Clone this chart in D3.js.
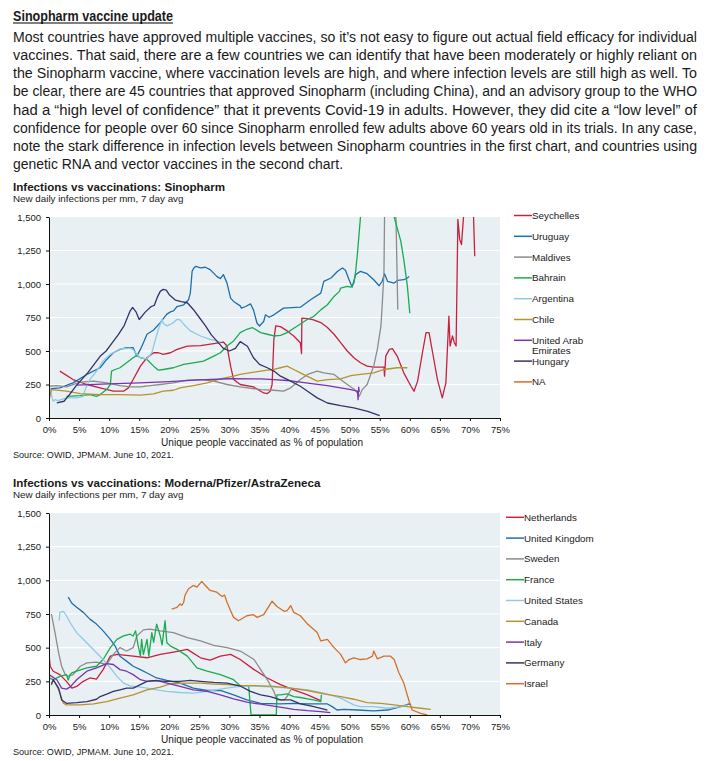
<!DOCTYPE html>
<html>
<head>
<meta charset="utf-8">
<script src="https://cdn.jsdelivr.net/npm/d3@7"></script>
<style>
  body { margin: 0; background: #fff; }
  svg text { font-family: "Liberation Sans", Arial, sans-serif; fill: #1a1a1a; }
</style>
</head>
<body>
<div id="page"></div>
<script>
// page text
const heading = "Sinopharm vaccine update";
const paragraph = [
  "Most countries have approved multiple vaccines, so it\u2019s not easy to figure out actual field efficacy for individual",
  "vaccines.  That said, there are a few countries we can identify that have been moderately or highly reliant on",
  "the Sinopharm vaccine, where vaccination levels are high, and where infection levels are still high as well.  To",
  "be clear, there are 45 countries that approved Sinopharm (including China), and an advisory group to the WHO",
  "had a \u201chigh level of confidence\u201d that it prevents Covid-19 in adults.  However, they did cite a \u201clow level\u201d of",
  "confidence for people over 60 since Sinopharm enrolled few adults above 60 years old in its trials.  In any case,",
  "note the stark difference in infection levels between Sinopharm countries in the first chart, and countries using",
  "genetic RNA and vector vaccines in the second chart."
];

// shared axis ticks
const yTicks = [0, 250, 500, 750, 1000, 1250, 1500];
const xTicks = [0, 5, 10, 15, 20, 25, 30, 35, 40, 45, 50, 55, 60, 65, 70, 75];
const xLabel = "Unique people vaccinated as % of population";
const sourceText = "Source: OWID, JPMAM. June 10, 2021.";

// ---- chart 1: Sinopharm countries  [% vaccinated, infections per mm]
const sinoNames = ["Seychelles", "Uruguay", "Maldives", "Bahrain", "Argentina", "Chile", "United Arab Emirates", "Hungary", "NA"];
const seychelles = [[1.8,350],[4,287],[6.3,250],[8.5,225],[10.7,200],[12.4,200],[13.2,225],[14,287],[15.2,387],[16.3,450],[17.4,487],[18.2,487],[19,475],[20.2,487],[21.3,512],[23,537],[25.2,540],[27.4,555],[29,567],[29.6,537],[30.2,387],[30.7,287],[31.8,250],[34,232],[35.7,187],[36.3,182],[36.8,200],[37.1,250],[37.4,587],[37.7,687],[38.5,682],[39.6,650],[40.7,612],[41.8,562],[42,480],[42.05,745],[43,742],[44,732],[45.2,712],[46.3,675],[47.4,625],[48.5,562],[49.6,500],[50.7,450],[51.8,412],[52.9,387],[54,380],[55.7,380],[55.8,312],[56,462],[56.6,512],[57.1,517],[57.9,462],[59,337],[60.2,237],[60.7,200],[61.3,275],[62.1,487],[62.7,637],[63.2,637],[63.8,487],[64.6,287],[65.4,150],[66,262],[66.5,760],[66.7,537],[67.1,612],[67.4,562],[67.7,537],[68,1482],[68.3,1332],[68.6,1295],[68.9,1482],[69.3,1650],[70,1650],[70.6,1500],[70.8,1207]];
const uruguay = [[0,217],[1.8,225],[4,262],[6.3,325],[8.5,375],[9.6,437],[10.7,487],[11.8,512],[12.9,525],[14,525],[14.6,462],[15.2,512],[15.7,562],[16.3,625],[17.4,657],[18.5,712],[19.6,775],[20.2,792],[20.7,800],[21.3,832],[22.4,845],[23.2,882],[23.5,932],[23.8,1095],[24.1,1120],[24.4,1132],[25.2,1120],[26,1125],[26.8,1107],[27.9,1057],[28.5,1040],[29,1070],[29.6,1007],[30.2,895],[30.7,870],[31.8,837],[32,820],[32.7,832],[33.5,852],[34,807],[34.6,707],[35,687],[35.7,720],[36,770],[36.6,752],[37.4,770],[39,820],[41.8,827],[43.5,882],[45.2,932],[45.7,1020],[46.9,1045],[48,1095],[48.8,1120],[49.3,1102],[49.9,1032],[50.4,977],[51,1070],[51.8,1095],[52.9,1077],[54,1032],[54.9,987],[55.4,1020],[55.8,1077],[56.3,1020],[57.4,1007],[58,1027],[59,1032],[59.6,1045],[59.9,1057]];
const maldives = [[0,237],[1.3,242],[2.9,232],[5.2,267],[7.4,275],[9.6,262],[11.8,242],[13.5,232],[15.2,232],[16.8,242],[18.5,250],[20.7,262],[23,282],[25.2,287],[27.4,275],[29.6,250],[31.8,232],[35.2,212],[37.4,207],[39,200],[40.2,225],[41.8,287],[43,325],[44.6,350],[45.7,337],[47.4,325],[48.5,287],[49.6,250],[50.7,217],[51.3,187],[51.6,162],[52.1,212],[52.9,250],[53.5,325],[54,387],[54.6,512],[55.2,687],[55.4,832],[55.7,1082],[55.8,1500],[56.5,1900],[57.2,1900],[57.7,1500],[58,807]];
const bahrain = [[2.9,162],[5.2,167],[6.8,175],[7.9,162],[8.5,175],[9.6,212],[10.2,250],[10.4,350],[11,362],[11.8,375],[12.9,412],[14,450],[14.6,467],[15.2,450],[16.3,437],[17.4,387],[18.2,357],[19,362],[20.7,375],[22.4,400],[24,412],[25.7,425],[27.4,462],[28.5,487],[29.6,537],[30.7,575],[31.8,637],[32.9,662],[33.8,675],[35.2,637],[36.3,625],[37.4,612],[38.5,617],[39.6,637],[41.3,687],[43,737],[44,757],[45.2,807],[46.3,845],[47.4,907],[48.3,945],[48.5,970],[49.6,982],[50.2,977],[50.7,1007],[51,1095],[51.3,1232],[51.8,1500],[52.5,1800],[55,2000],[57,1800],[57.4,1500],[58.5,1320],[59,1182],[59.6,982],[60,782]];
const argentina = [[0.2,225],[0.5,150],[0.7,125],[1,137],[1.5,130],[2.9,150],[4.6,150],[5.7,162],[6,212],[6.3,240],[6.8,287],[7.9,350],[9,425],[10.2,475],[11.8,515],[13.5,522],[14,510],[14.6,475],[15.2,450],[16.3,442],[17.1,487],[17.7,587],[18.2,662],[18.8,737],[19,707],[19.6,687],[20.2,700],[20.7,712],[21.3,737],[21.8,732],[22.4,700],[23.5,650],[25.2,612],[26.8,587],[27.9,575],[28.5,565]];
const chile = [[0,225],[0.1,150],[0.4,212],[2.9,200],[5.2,182],[8.5,175],[11.8,175],[15.2,170],[17.4,180],[19,200],[20.7,207],[21.8,225],[24,242],[26.3,262],[28.5,292],[30.7,312],[31.8,325],[34.1,342],[36.3,357],[37.4,362],[38.5,375],[39.6,387],[40.7,362],[41.8,337],[43.5,300],[44.6,275],[46.3,287],[48.5,292],[50.2,317],[51.8,325],[54,337],[55.7,362],[57.9,375],[59.6,375]];
const uae = [[4.5,245],[10,255],[15,262],[20,272],[25,285],[30,293],[35.2,292],[37.4,287],[39.6,280],[41.8,267],[44,255],[46.3,242],[48.5,225],[50.2,212],[51.3,200],[51.4,137],[51.5,230],[51.6,195]];
const hungary = [[1.3,112],[2.5,125],[3.5,180],[4.5,240],[5.5,290],[6.5,340],[7.5,400],[8.5,460],[9.5,500],[10.5,560],[11.5,620],[12.5,690],[13.5,800],[13.9,825],[14.5,790],[15,735],[16,790],[17,832],[17.5,840],[18,900],[18.5,945],[19,960],[19.5,955],[20,920],[21,880],[22,868],[23,860],[24,810],[25,750],[26,690],[27,620],[28,570],[29,520],[30,500],[31,520],[31.8,570],[33,535],[34,450],[35,400],[36.3,375],[37.4,350],[38.5,312],[40.2,275],[41.8,237],[43,200],[44.6,150],[46.3,112],[48.5,92],[50.7,75],[53,50],[55,17]];
const naSeries = [];
const sinoValues = [seychelles, uruguay, maldives, bahrain, argentina, chile, uae, hungary, naSeries];

// ---- chart 2: mRNA / vector countries
const mrnaNames = ["Netherlands", "United Kingdom", "Sweden", "France", "United States", "Canada", "Italy", "Germany", "Israel"];
const netherlands = [[0,450],[0.2,362],[0.7,325],[1.8,300],[2.9,250],[3.8,200],[4.6,212],[5.7,250],[6.8,275],[7.9,267],[9,337],[10.2,437],[11.3,450],[14,437],[16.3,425],[18.5,450],[20.7,467],[23,487],[25.2,425],[26.8,407],[28.5,437],[30.2,450],[31.8,412],[34.1,337],[36.3,275],[38.5,225],[40.7,187],[43,150],[45.2,107]];
const uk = [[3.2,875],[3.8,830],[4.6,800],[5.7,762],[6.8,712],[7.9,675],[9,625],[10.2,562],[11,512],[11.8,437],[12.9,400],[14,362],[15.2,337],[16.3,312],[17.9,275],[19.6,257],[21.8,237],[24,200],[26.3,182],[28.5,182],[30.7,150],[32.9,112],[35.2,87],[38.5,82],[40.7,87],[43,82],[46.3,82],[47.1,62],[47.9,37],[49,42],[51.3,37],[54,30],[56.3,37],[58.5,62],[59.9,82],[60.2,75]];
const sweden = [[0.4,750],[1,612],[1.6,462],[2.1,362],[2.7,300],[3.2,287],[4,300],[5.2,362],[6.3,387],[7.9,392],[9.6,375],[10.7,450],[11.8,500],[12.9,475],[14,500],[14.6,587],[15.7,632],[16.8,637],[18.5,625],[20.7,612],[23,575],[25.2,550],[27.4,517],[29.6,500],[31.8,475],[34.1,412],[35.2,337],[36.3,262],[37.4,175],[37.9,112],[39.1,112],[39.6,137],[40.2,187]];
const france = [[0,275],[0.7,262],[1.8,287],[2.9,300],[3.2,260],[3.5,300],[3.8,312],[4.6,325],[6.3,350],[7.9,362],[9,412],[10.2,500],[11.3,562],[12.4,587],[13.5,600],[14,587],[14.4,625],[14.8,520],[15.2,437],[15.4,562],[15.7,450],[16.3,562],[16.6,437],[17.1,612],[17.4,540],[17.9,675],[18.5,587],[18.8,520],[19,590],[19.3,700],[19.6,537],[20.2,512],[21.3,487],[23,437],[24.6,350],[26.3,325],[28.5,300],[30.7,262],[31.8,217],[33.2,217],[33.6,0],[37.8,0],[37.9,150],[38.5,150],[39.6,157],[40.7,137],[41.8,130],[43,120],[44,112],[45.2,100],[45.3,150]];
const us = [[1.7,700],[1.8,762],[2.4,770],[2.9,737],[3.5,687],[4.6,612],[5.7,562],[6.8,512],[7.9,462],[9,412],[10.2,350],[11.3,287],[12.4,237],[13.5,217],[15.2,207],[16.3,200],[17.9,187],[19.6,175],[21.8,167],[24,162],[26.3,175],[28.5,192],[30.7,207],[32.9,217],[35.2,212],[37.4,207],[40.2,200],[43,187],[45.7,162],[48.5,125],[50.7,75],[51.8,62],[54,62],[56.3,50],[58.5,62],[59.6,75]];
const canada = [[0.4,237],[0.8,260],[1.6,187],[2.4,87],[2.9,75],[5.2,75],[7.4,82],[9.6,100],[11.8,125],[14,150],[16.3,187],[18.5,207],[20.2,232],[23,237],[25.2,237],[27.4,230],[29.6,225],[31.8,220],[35.2,217],[37.4,212],[40.2,200],[43,182],[45.7,157],[48.5,137],[50.7,117],[52.9,92],[55.2,87],[57.4,75],[59.6,62],[61.8,50],[63.5,42]];
const italy = [[0,300],[1.3,262],[2.1,200],[2.9,192],[3.5,207],[4.6,262],[6.3,325],[7.9,350],[9.6,382],[10.7,375],[11.8,337],[12.9,325],[14,300],[15.2,262],[16.3,250],[17.9,257],[19.6,237],[21.8,212],[24,187],[26.3,175],[28.5,150],[30.7,120],[32.9,95],[35.2,80],[37.9,62],[40.7,42],[43,32],[45.2,25],[46.8,17]];
const germany = [[0.4,225],[0.7,262],[1,240],[1.6,200],[2.1,112],[2.9,87],[4.6,92],[6.3,100],[7.9,117],[8.5,137],[9.6,155],[10.7,175],[11.8,187],[12.9,200],[14,200],[15.2,225],[16.3,250],[17.4,255],[19.6,250],[21.8,250],[23.5,257],[25.2,250],[27.4,242],[29.6,237],[31.8,215],[33.5,175],[35.2,150],[36.8,137],[38.5,112],[40.2,112],[41.8,82],[43.5,67],[45.2,50],[46.3,37]];
const israel = [[20.4,787],[21.3,800],[21.8,825],[22.1,815],[22.4,837],[22.6,887],[23.2,937],[24,962],[24.6,950],[25.4,992],[26,962],[26.8,925],[27.9,912],[28.8,880],[29.2,890],[29.6,837],[30.2,775],[30.7,725],[31.5,700],[32.9,737],[34,745],[34.6,725],[35.7,745],[37.1,845],[37.9,806],[39.1,770],[39.6,775],[40.2,812],[40.7,762],[41.8,737],[43,675],[44.6,612],[45.2,550],[46.3,562],[47.4,500],[48.5,450],[49.3,387],[49.9,412],[50.7,425],[51.8,412],[52.9,417],[53.8,437],[54,475],[54.6,417],[55.7,437],[56.8,437],[57.4,412],[58.2,312],[59,237],[59.9,100],[60.4,37],[61.8,12],[62.9,0]];
const mrnaValues = [netherlands, uk, sweden, france, us, canada, italy, germany, israel];

// same colour order in both charts
const colors = ["#c8203f", "#1f6fae", "#8c8c8c", "#1aab52", "#8dcae6", "#b8922f", "#7a33b2", "#34346a", "#d3702a"];

const W = 710, H = 761;
const svg = d3.select("#page").append("svg").attr("width", W).attr("height", H);

// ---- heading + paragraph
svg.append("text")
  .attr("x", 13).attr("y", 20.5)
  .style("font-family", "'Liberation Sans Narrow', 'Liberation Sans', sans-serif")
  .style("font-weight", "bold").style("font-size", "14px")
  .attr("textLength", 160).attr("lengthAdjust", "spacingAndGlyphs")
  .text(heading);
svg.append("line").attr("x1", 13).attr("x2", 173).attr("y1", 23).attr("y2", 23)
  .attr("stroke", "#000").attr("stroke-width", 1);

svg.selectAll("text.para")
  .data(paragraph)
  .enter().append("text")
  .attr("class", "para")
  .attr("x", 13)
  .attr("y", (d, i) => 42 + i * 18.15)
  .style("font-family", "'Liberation Sans Narrow', 'Liberation Sans', sans-serif")
  .style("font-size", "14px")
  .attr("textLength", (d, i) => i === paragraph.length - 1 ? 330 : 684)
  .attr("lengthAdjust", "spacingAndGlyphs")
  .text(d => d);

// ---- one chart
function drawChart(cfg) {
  const left = 49, right = 500;
  const x = d3.scaleLinear().domain([0, 75]).range([left, right]);
  const y = d3.scaleLinear().domain([0, 1500]).range([cfg.bottom, cfg.top]);
  const g = svg.append("g");

  g.append("text").attr("x", 13).attr("y", cfg.titleY)
    .style("font-weight", "bold").style("font-size", "11.6px")
    .text(cfg.title);
  g.append("text").attr("x", 13).attr("y", cfg.titleY + 10.8)
    .style("font-size", "9.8px")
    .text("New daily infections per mm, 7 day avg");

  // plot background + white gridlines
  g.append("rect").attr("x", left).attr("y", y(1500))
    .attr("width", right - left).attr("height", y(0) - y(1500))
    .attr("fill", "#e8f0f3");
  g.selectAll("line.grid").data(yTicks.slice(1, -1)).enter().append("line")
    .attr("x1", left).attr("x2", right)
    .attr("y1", d => y(d)).attr("y2", d => y(d))
    .attr("stroke", "#fff").attr("stroke-width", 1.2);

  const clipId = "clip" + cfg.id;
  svg.append("clipPath").attr("id", clipId).append("rect")
    .attr("x", left).attr("y", y(1500)).attr("width", right - left).attr("height", y(0) - y(1500));

  const line = d3.line().x(d => x(d[0])).y(d => y(d[1]));
  g.append("g").attr("clip-path", "url(#" + clipId + ")")
    .selectAll("path").data(cfg.values).enter().append("path")
    .attr("d", d => d.length ? line(d) : null)
    .attr("fill", "none")
    .attr("stroke", (d, i) => colors[i])
    .attr("stroke-width", 1.3)
    .attr("stroke-linejoin", "round");

  // axes
  const yAxis = g.append("g").attr("transform", "translate(" + left + ",0)")
    .call(d3.axisLeft(y).tickValues(yTicks).tickFormat(d3.format(",")).tickSize(3).tickSizeOuter(0));
  const xAxis = g.append("g").attr("transform", "translate(0," + y(0) + ")")
    .call(d3.axisBottom(x).tickValues(xTicks).tickFormat(d => d + "%").tickSize(3).tickSizeOuter(0));
  [yAxis, xAxis].forEach(a => {
    a.select(".domain").attr("stroke", "#111");
    a.selectAll(".tick line").attr("stroke", "#111");
    a.selectAll("text").style("font-size", "9.5px").attr("fill", "#1a1a1a")
      .style("font-family", "'Liberation Sans', Arial, sans-serif");
  });
  yAxis.selectAll("text").attr("x", -8);
  xAxis.selectAll("text").attr("y", 8);

  g.append("text").attr("x", 262).attr("y", y(0) + 27.5)
    .attr("text-anchor", "middle").style("font-size", "10.1px").text(xLabel);
  g.append("text").attr("x", 13).attr("y", y(0) + 39.5)
    .style("font-size", "9.1px").text(sourceText);

  // legend
  const leg = g.selectAll("g.leg").data(cfg.names).enter().append("g")
    .attr("transform", (d, i) => "translate(" + cfg.legX + "," + (cfg.legY + i * 20.8) + ")");
  leg.append("line").attr("x1", 0).attr("x2", 18).attr("y1", 0).attr("y2", 0)
    .attr("stroke", (d, i) => colors[i]).attr("stroke-width", 1.5);
  const lt = leg.append("text").attr("x", 18).attr("y", 3.4).style("font-size", "9.8px");
  lt.each(function(d) {
    const words = d.split(" ");
    if (d.length > 15) {
      // wrap long country names onto two lines
      d3.select(this).append("tspan").attr("x", 18).text(words.slice(0, 2).join(" "));
      d3.select(this).append("tspan").attr("x", 18).attr("dy", 10.8).text(words.slice(2).join(" "));
    } else {
      d3.select(this).text(d);
    }
  });
}

drawChart({ id: 1, title: "Infections vs vaccinations: Sinopharm", titleY: 190.8,
  top: 217, bottom: 418, names: sinoNames, values: sinoValues, legX: 514, legY: 215.5 });
drawChart({ id: 2, title: "Infections vs vaccinations: Moderna/Pfizer/AstraZeneca", titleY: 487.3,
  top: 513, bottom: 715, names: mrnaNames, values: mrnaValues, legX: 506, legY: 517.3 });
</script>
</body>
</html>
